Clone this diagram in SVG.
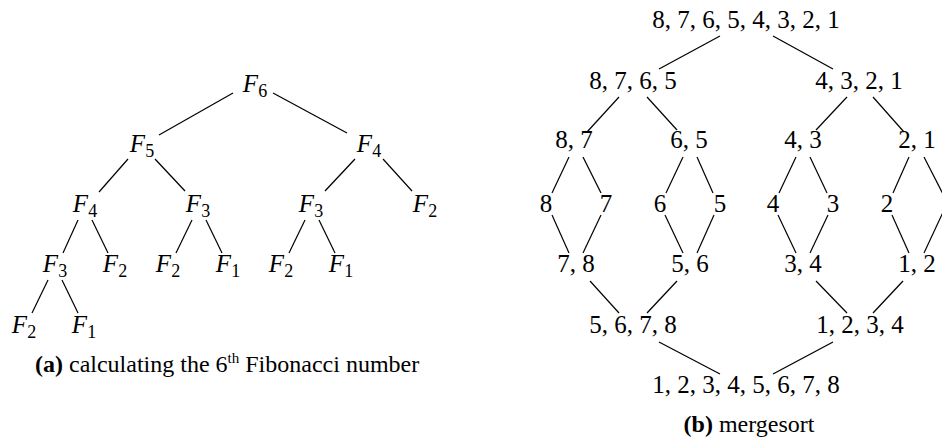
<svg xmlns="http://www.w3.org/2000/svg" width="942" height="441" viewBox="0 0 942 441">
<style>
.m{font-family:"Liberation Serif","DejaVu Serif",serif;font-size:25px;fill:#000;text-anchor:middle}
.f{font-style:italic}
.s{font-style:normal;font-size:18px}
.c{font-family:"Liberation Serif","DejaVu Serif",serif;font-size:24px;fill:#000}
.e line{stroke:#000;stroke-width:1.2;fill:none}
</style>
<rect width="942" height="441" fill="#fff"/>
<g id="connectors" class="e">
<line x1="233" y1="93" x2="159" y2="135"/>
<line x1="273" y1="93" x2="347" y2="133"/>
<line x1="128" y1="159" x2="99" y2="192"/>
<line x1="155" y1="159" x2="185" y2="191"/>
<line x1="355" y1="159" x2="325" y2="191"/>
<line x1="383" y1="159" x2="412" y2="191"/>
<line x1="78" y1="220" x2="63" y2="253"/>
<line x1="92" y1="220" x2="108" y2="253"/>
<line x1="192" y1="220" x2="176" y2="253"/>
<line x1="206" y1="220" x2="222" y2="253"/>
<line x1="305" y1="220" x2="289" y2="253"/>
<line x1="319" y1="220" x2="335" y2="253"/>
<line x1="48" y1="280" x2="32" y2="313"/>
<line x1="62" y1="280" x2="78" y2="313"/>
<line x1="720" y1="36" x2="659" y2="69"/>
<line x1="773" y1="36" x2="833" y2="69"/>
<line x1="619" y1="97" x2="587" y2="132"/>
<line x1="647" y1="97" x2="677" y2="130"/>
<line x1="847" y1="97" x2="816" y2="130"/>
<line x1="873" y1="97" x2="904" y2="132"/>
<line x1="569" y1="157" x2="552" y2="193"/>
<line x1="583" y1="157" x2="601" y2="193"/>
<line x1="683" y1="157" x2="666" y2="193"/>
<line x1="697" y1="157" x2="713" y2="193"/>
<line x1="796" y1="157" x2="779" y2="193"/>
<line x1="810" y1="157" x2="827" y2="193"/>
<line x1="909" y1="157" x2="893" y2="193"/>
<line x1="924" y1="157" x2="946" y2="200"/>
<line x1="552" y1="215" x2="569" y2="253"/>
<line x1="601" y1="215" x2="583" y2="253"/>
<line x1="665" y1="215" x2="683" y2="253"/>
<line x1="714" y1="215" x2="697" y2="253"/>
<line x1="778" y1="215" x2="796" y2="253"/>
<line x1="828" y1="215" x2="810" y2="253"/>
<line x1="892" y1="215" x2="909" y2="253"/>
<line x1="944" y1="210" x2="924" y2="253"/>
<line x1="590" y1="281" x2="619" y2="313"/>
<line x1="677" y1="281" x2="647" y2="313"/>
<line x1="816" y1="281" x2="847" y2="313"/>
<line x1="903" y1="281" x2="873" y2="313"/>
<line x1="659" y1="342" x2="720" y2="374"/>
<line x1="833" y1="342" x2="773" y2="374"/>
</g>
<g id="fib">
<g id="f6"><text class="m f" x="255" y="92">F<tspan class="s" dy="5">6</tspan></text></g>
<g id="f5"><text class="m f" x="142" y="152">F<tspan class="s" dy="5">5</tspan></text></g>
<g id="f4r"><text class="m f" x="369" y="152">F<tspan class="s" dy="5">4</tspan></text></g>
<g id="f4l"><text class="m f" x="85" y="212">F<tspan class="s" dy="5">4</tspan></text></g>
<g id="f3a"><text class="m f" x="198" y="212">F<tspan class="s" dy="5">3</tspan></text></g>
<g id="f3b"><text class="m f" x="311" y="212">F<tspan class="s" dy="5">3</tspan></text></g>
<g id="f2a"><text class="m f" x="425" y="212">F<tspan class="s" dy="5">2</tspan></text></g>
<g id="f3c"><text class="m f" x="55" y="272">F<tspan class="s" dy="5">3</tspan></text></g>
<g id="f2b"><text class="m f" x="115" y="272">F<tspan class="s" dy="5">2</tspan></text></g>
<g id="f2c"><text class="m f" x="168" y="272">F<tspan class="s" dy="5">2</tspan></text></g>
<g id="f1a"><text class="m f" x="228" y="272">F<tspan class="s" dy="5">1</tspan></text></g>
<g id="f2d"><text class="m f" x="281" y="272">F<tspan class="s" dy="5">2</tspan></text></g>
<g id="f1b"><text class="m f" x="341" y="272">F<tspan class="s" dy="5">1</tspan></text></g>
<g id="f2e"><text class="m f" x="24" y="333">F<tspan class="s" dy="5">2</tspan></text></g>
<g id="f1c"><text class="m f" x="84" y="333">F<tspan class="s" dy="5">1</tspan></text></g>
</g>
<g id="merge">
<g id="m1"><text class="m" x="746" y="28">8, 7, 6, 5, 4, 3, 2, 1</text></g>
<g id="m2a"><text class="m" x="633" y="89">8, 7, 6, 5</text></g>
<g id="m2b"><text class="m" x="859" y="89">4, 3, 2, 1</text></g>
<g id="m3a"><text class="m" x="574" y="148">8, 7</text></g>
<g id="m3b"><text class="m" x="689" y="148">6, 5</text></g>
<g id="m3c"><text class="m" x="803" y="148">4, 3</text></g>
<g id="m3d"><text class="m" x="917" y="148">2, 1</text></g>
<g id="l8"><text class="m" x="546" y="212">8</text></g>
<g id="l7"><text class="m" x="606" y="212">7</text></g>
<g id="l6"><text class="m" x="660" y="212">6</text></g>
<g id="l5"><text class="m" x="720" y="212">5</text></g>
<g id="l4"><text class="m" x="773" y="212">4</text></g>
<g id="l3"><text class="m" x="833" y="212">3</text></g>
<g id="l2"><text class="m" x="887" y="212">2</text></g>
<g id="m5a"><text class="m" x="576" y="272">7, 8</text></g>
<g id="m5b"><text class="m" x="690" y="272">5, 6</text></g>
<g id="m5c"><text class="m" x="803" y="272">3, 4</text></g>
<g id="m5d"><text class="m" x="917" y="272">1, 2</text></g>
<g id="m6a"><text class="m" x="633" y="333">5, 6, 7, 8</text></g>
<g id="m6b"><text class="m" x="860" y="333">1, 2, 3, 4</text></g>
<g id="m7"><text class="m" x="746" y="393">1, 2, 3, 4, 5, 6, 7, 8</text></g>
</g>
<g id="captions">
<text class="c" x="35" y="372"><tspan font-weight="bold">(a)</tspan> calculating the 6<tspan font-size="15" dy="-9">th</tspan><tspan dy="9"> Fibonacci number</tspan></text>
<text class="c" x="749" y="432" text-anchor="middle"><tspan font-weight="bold">(b)</tspan> mergesort</text>
</g>
</svg>
